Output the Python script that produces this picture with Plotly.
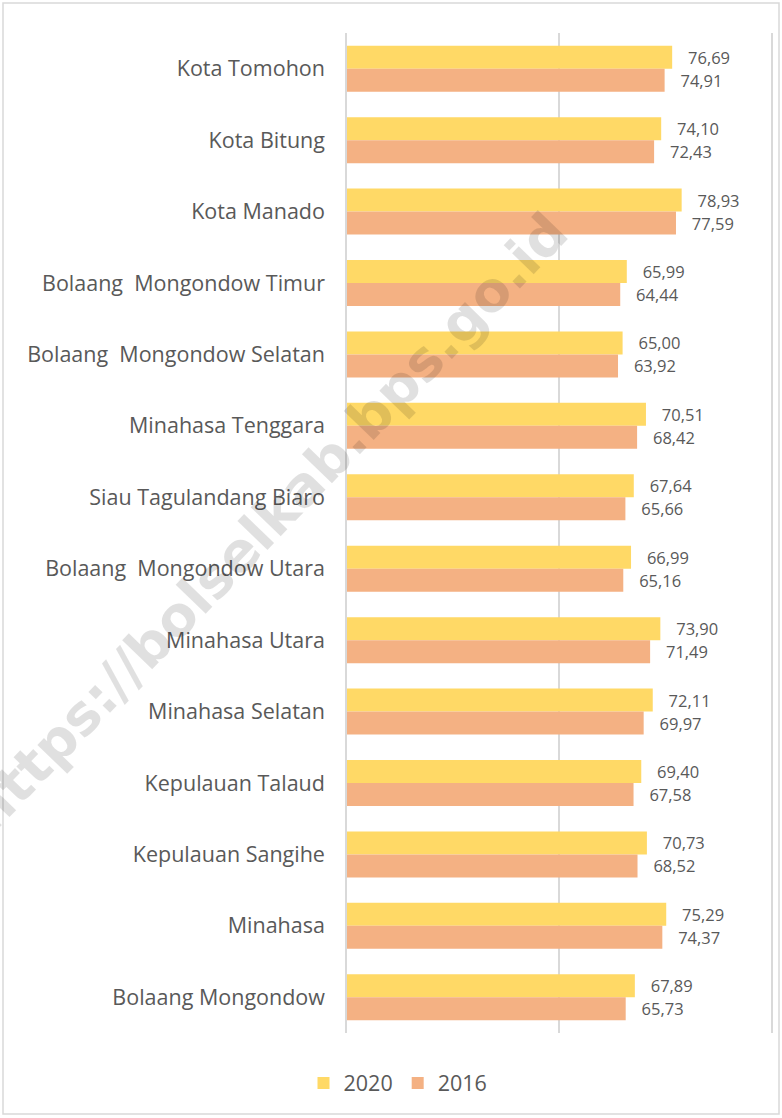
import plotly.graph_objects as go

categories = [
    "Kota Tomohon", "Kota Bitung", "Kota Manado",
    "Bolaang\u00a0\u00a0Mongondow Timur", "Bolaang\u00a0\u00a0Mongondow Selatan",
    "Minahasa Tenggara", "Siau Tagulandang Biaro", "Bolaang\u00a0\u00a0Mongondow Utara",
    "Minahasa Utara", "Minahasa Selatan", "Kepulauan Talaud", "Kepulauan Sangihe",
    "Minahasa", "Bolaang Mongondow",
]
values_2020 = [76.69, 74.10, 78.93, 65.99, 65.00, 70.51, 67.64, 66.99, 73.90, 72.11, 69.40, 70.73, 75.29, 67.89]
values_2016 = [74.91, 72.43, 77.59, 64.44, 63.92, 68.42, 65.66, 65.16, 71.49, 69.97, 67.58, 68.52, 74.37, 65.73]
series_names = ["2020", "2016"]
colors = ["#FFD966", "#F4B183"]

FONT = "Open Sans"
TXT = "#595959"

fig = go.Figure()
for name, vals, col in zip(series_names, [values_2020, values_2016], colors):
    fig.add_trace(go.Bar(
        y=categories, x=vals, name=name, orientation="h",
        marker=dict(color=col, line=dict(width=0)),
        texttemplate="\u00a0\u00a0\u00a0%{x:.2f}", textposition="outside",
        textfont=dict(family=FONT, size=16.5, color=TXT),
        cliponaxis=False,
    ))

W, H = 782, 1118
L, R, T, B = 347, 11, 33, 85
pw, ph = W - L - R, H - T - B

def px(x):
    return (x - L) / pw

def py(y):
    return (H - B - y) / ph

fig.update_layout(
    width=W, height=H,
    margin=dict(l=L, r=R, t=T, b=B, autoexpand=False),
    paper_bgcolor="white", plot_bgcolor="white",
    barmode="group", bargap=0.356, bargroupgap=0,
    separators=",.",
    font=dict(family=FONT, color=TXT),
    xaxis=dict(range=[0, 100], tickvals=[0, 50, 100], showticklabels=False,
               showgrid=True, gridcolor="#D9D9D9", gridwidth=1.5,
               zeroline=False, showline=False, fixedrange=True, automargin=False),
    yaxis=dict(autorange="reversed", showgrid=False, zeroline=False,
               showline=True, mirror=True, linecolor="#D9D9D9", linewidth=1.5,
               ticks="", ticklabelstandoff=16, automargin=False,
               tickfont=dict(family=FONT, size=21.5, color=TXT)),
    legend=dict(orientation="h", x=px(398), xanchor="center", y=py(1083), yanchor="middle",
                font=dict(family=FONT, size=21.5, color=TXT), traceorder="normal",
                itemwidth=30),
    showlegend=True,
    shapes=[dict(type="rect", xref="paper", yref="paper",
                 x0=px(3), x1=px(779), y0=py(1114), y1=py(3),
                 line=dict(color="#D9D9D9", width=1.5), fillcolor="rgba(0,0,0,0)",
                 layer="below")],
    annotations=[dict(text="<b>https://bolselkab.bps.go.id</b>", xref="paper", yref="paper",
                      x=px(268), y=py(522), xanchor="center", yanchor="middle",
                      showarrow=False, textangle=-46,
                      font=dict(family="DejaVu Sans", size=55, color="rgba(0,0,0,0.12)"))],
)

fig.write_html("out.html", config={"displayModeBar": False},
               post_script="document.body.style.margin='0px';")
